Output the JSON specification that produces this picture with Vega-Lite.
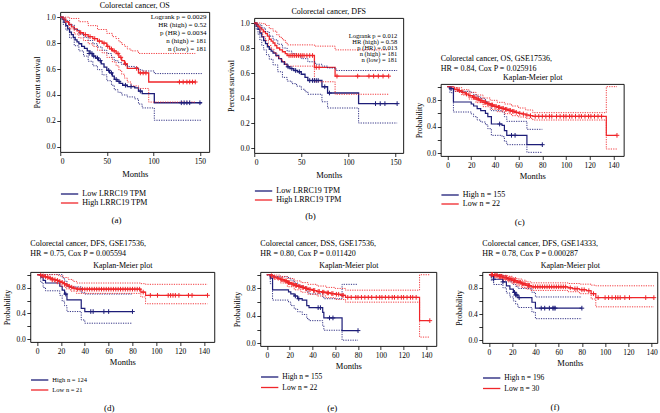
{
"$schema": "https://vega.github.io/schema/vega-lite/v6.json",
"padding": {"left": 3, "top": 0, "right": 0, "bottom": 0},
"config": {
 "font": "Liberation Serif",
 "view": {"stroke": "#000", "strokeWidth": 0.9},
 "axis": {"grid": false, "domain": false, "tickColor": "#000", "labelColor": "#000", "titleColor": "#000", "labelFont": "Liberation Serif", "titleFont": "Liberation Serif", "titleFontWeight": "normal", "labelFontSize": 7.5, "titleFontSize": 8, "tickSize": 3.5, "tickWidth": 0.8, "labelPadding": 1.5},
 "legend": {"labelFont": "Liberation Serif", "labelColor": "#000", "orient": "bottom", "direction": "vertical", "symbolType": "M-1,0L3,0", "symbolStrokeWidth": 1.3, "symbolSize": 75, "labelFontSize": 8, "rowPadding": 0, "labelOffset": 12, "offset": 8},
 "title": {"font": "Liberation Serif", "fontSize": 8, "fontWeight": "normal", "color": "#000"}
},
"datasets": {
"pa": [
{"g":"L","k":"e","t":0,"s":1},{"g":"L","k":"e","t":2,"s":0.985},{"g":"L","k":"e","t":4,"s":0.96},{"g":"L","k":"e","t":6,"s":0.935},{"g":"L","k":"e","t":8,"s":0.91},{"g":"L","k":"e","t":10,"s":0.885},{"g":"L","k":"e","t":12,"s":0.865},{"g":"L","k":"e","t":14,"s":0.845},{"g":"L","k":"e","t":16,"s":0.825},{"g":"L","k":"e","t":18,"s":0.81},{"g":"L","k":"e","t":20,"s":0.795},{"g":"L","k":"e","t":23,"s":0.775},{"g":"L","k":"e","t":26,"s":0.76},{"g":"L","k":"e","t":29,"s":0.74},{"g":"L","k":"e","t":32,"s":0.72},{"g":"L","k":"e","t":35,"s":0.7},{"g":"L","k":"e","t":38,"s":0.685},{"g":"L","k":"e","t":41,"s":0.665},{"g":"L","k":"e","t":44,"s":0.64},{"g":"L","k":"e","t":47,"s":0.615},{"g":"L","k":"e","t":50,"s":0.59},{"g":"L","k":"e","t":53,"s":0.57},{"g":"L","k":"e","t":56,"s":0.545},{"g":"L","k":"e","t":58,"s":0.52},{"g":"L","k":"e","t":61,"s":0.505},{"g":"L","k":"e","t":64,"s":0.49},{"g":"L","k":"e","t":67,"s":0.475},{"g":"L","k":"e","t":72,"s":0.465},{"g":"L","k":"e","t":80,"s":0.455},{"g":"L","k":"e","t":84,"s":0.43},{"g":"L","k":"e","t":88,"s":0.41},{"g":"L","k":"e","t":101,"s":0.34},{"g":"L","k":"e","t":152,"s":0.34},
{"g":"L","k":"c","t":31,"s":0.72},{"g":"L","k":"c","t":34,"s":0.72},{"g":"L","k":"c","t":36,"s":0.7},{"g":"L","k":"c","t":40,"s":0.685},{"g":"L","k":"c","t":43,"s":0.665},{"g":"L","k":"c","t":52,"s":0.59},{"g":"L","k":"c","t":55,"s":0.57},{"g":"L","k":"c","t":60,"s":0.52},{"g":"L","k":"c","t":63,"s":0.505},{"g":"L","k":"c","t":70,"s":0.475},{"g":"L","k":"c","t":76,"s":0.465},{"g":"L","k":"c","t":86,"s":0.43},{"g":"L","k":"c","t":130,"s":0.34},{"g":"L","k":"c","t":133,"s":0.34},{"g":"L","k":"c","t":136,"s":0.34},{"g":"L","k":"c","t":139,"s":0.34},{"g":"L","k":"c","t":150,"s":0.34},
{"g":"L","k":"u","t":0,"s":1},{"g":"L","k":"u","t":5,"s":0.975},{"g":"L","k":"u","t":10,"s":0.94},{"g":"L","k":"u","t":15,"s":0.905},{"g":"L","k":"u","t":20,"s":0.87},{"g":"L","k":"u","t":25,"s":0.845},{"g":"L","k":"u","t":30,"s":0.82},{"g":"L","k":"u","t":35,"s":0.795},{"g":"L","k":"u","t":40,"s":0.77},{"g":"L","k":"u","t":45,"s":0.745},{"g":"L","k":"u","t":50,"s":0.72},{"g":"L","k":"u","t":55,"s":0.69},{"g":"L","k":"u","t":58,"s":0.665},{"g":"L","k":"u","t":62,"s":0.65},{"g":"L","k":"u","t":66,"s":0.635},{"g":"L","k":"u","t":72,"s":0.62},{"g":"L","k":"u","t":80,"s":0.61},{"g":"L","k":"u","t":84,"s":0.595},{"g":"L","k":"u","t":88,"s":0.585},{"g":"L","k":"u","t":101,"s":0.565},{"g":"L","k":"u","t":152,"s":0.565},
{"g":"L","k":"l","t":0,"s":1},{"g":"L","k":"l","t":3,"s":0.945},{"g":"L","k":"l","t":6,"s":0.9},{"g":"L","k":"l","t":10,"s":0.84},{"g":"L","k":"l","t":15,"s":0.78},{"g":"L","k":"l","t":20,"s":0.74},{"g":"L","k":"l","t":25,"s":0.7},{"g":"L","k":"l","t":30,"s":0.66},{"g":"L","k":"l","t":35,"s":0.625},{"g":"L","k":"l","t":40,"s":0.595},{"g":"L","k":"l","t":45,"s":0.555},{"g":"L","k":"l","t":50,"s":0.51},{"g":"L","k":"l","t":55,"s":0.475},{"g":"L","k":"l","t":58,"s":0.44},{"g":"L","k":"l","t":62,"s":0.42},{"g":"L","k":"l","t":66,"s":0.4},{"g":"L","k":"l","t":72,"s":0.385},{"g":"L","k":"l","t":80,"s":0.37},{"g":"L","k":"l","t":84,"s":0.33},{"g":"L","k":"l","t":88,"s":0.3},{"g":"L","k":"l","t":101,"s":0.205},{"g":"L","k":"l","t":152,"s":0.205},
{"g":"H","k":"e","t":0,"s":1},{"g":"H","k":"e","t":3,"s":0.985},{"g":"H","k":"e","t":6,"s":0.965},{"g":"H","k":"e","t":9,"s":0.945},{"g":"H","k":"e","t":12,"s":0.925},{"g":"H","k":"e","t":15,"s":0.91},{"g":"H","k":"e","t":18,"s":0.895},{"g":"H","k":"e","t":21,"s":0.88},{"g":"H","k":"e","t":25,"s":0.865},{"g":"H","k":"e","t":30,"s":0.85},{"g":"H","k":"e","t":35,"s":0.835},{"g":"H","k":"e","t":40,"s":0.815},{"g":"H","k":"e","t":45,"s":0.8},{"g":"H","k":"e","t":50,"s":0.775},{"g":"H","k":"e","t":53,"s":0.755},{"g":"H","k":"e","t":56,"s":0.74},{"g":"H","k":"e","t":60,"s":0.72},{"g":"H","k":"e","t":63,"s":0.69},{"g":"H","k":"e","t":66,"s":0.665},{"g":"H","k":"e","t":69,"s":0.64},{"g":"H","k":"e","t":72,"s":0.605},{"g":"H","k":"e","t":84,"s":0.57},{"g":"H","k":"e","t":95,"s":0.5},{"g":"H","k":"e","t":145,"s":0.5},
{"g":"H","k":"c","t":22,"s":0.88},{"g":"H","k":"c","t":27,"s":0.865},{"g":"H","k":"c","t":32,"s":0.85},{"g":"H","k":"c","t":37,"s":0.835},{"g":"H","k":"c","t":42,"s":0.815},{"g":"H","k":"c","t":47,"s":0.8},{"g":"H","k":"c","t":51,"s":0.775},{"g":"H","k":"c","t":55,"s":0.755},{"g":"H","k":"c","t":58,"s":0.74},{"g":"H","k":"c","t":62,"s":0.72},{"g":"H","k":"c","t":65,"s":0.69},{"g":"H","k":"c","t":70,"s":0.64},{"g":"H","k":"c","t":82,"s":0.605},{"g":"H","k":"c","t":86,"s":0.57},{"g":"H","k":"c","t":89,"s":0.57},{"g":"H","k":"c","t":92,"s":0.57},{"g":"H","k":"c","t":128,"s":0.5},{"g":"H","k":"c","t":132,"s":0.5},{"g":"H","k":"c","t":136,"s":0.5},{"g":"H","k":"c","t":139,"s":0.5},{"g":"H","k":"c","t":142,"s":0.5},{"g":"H","k":"c","t":145,"s":0.5},
{"g":"H","k":"u","t":0,"s":1},{"g":"H","k":"u","t":10,"s":0.99},{"g":"H","k":"u","t":20,"s":0.965},{"g":"H","k":"u","t":30,"s":0.935},{"g":"H","k":"u","t":40,"s":0.905},{"g":"H","k":"u","t":50,"s":0.875},{"g":"H","k":"u","t":56,"s":0.85},{"g":"H","k":"u","t":60,"s":0.835},{"g":"H","k":"u","t":63,"s":0.81},{"g":"H","k":"u","t":66,"s":0.79},{"g":"H","k":"u","t":69,"s":0.775},{"g":"H","k":"u","t":72,"s":0.755},{"g":"H","k":"u","t":76,"s":0.74},{"g":"H","k":"u","t":84,"s":0.72},{"g":"H","k":"u","t":145,"s":0.72},
{"g":"H","k":"l","t":0,"s":1},{"g":"H","k":"l","t":5,"s":0.96},{"g":"H","k":"l","t":10,"s":0.91},{"g":"H","k":"l","t":15,"s":0.87},{"g":"H","k":"l","t":20,"s":0.84},{"g":"H","k":"l","t":25,"s":0.82},{"g":"H","k":"l","t":30,"s":0.795},{"g":"H","k":"l","t":35,"s":0.775},{"g":"H","k":"l","t":40,"s":0.745},{"g":"H","k":"l","t":45,"s":0.725},{"g":"H","k":"l","t":50,"s":0.69},{"g":"H","k":"l","t":56,"s":0.655},{"g":"H","k":"l","t":60,"s":0.625},{"g":"H","k":"l","t":63,"s":0.59},{"g":"H","k":"l","t":66,"s":0.56},{"g":"H","k":"l","t":69,"s":0.53},{"g":"H","k":"l","t":72,"s":0.5},{"g":"H","k":"l","t":76,"s":0.47},{"g":"H","k":"l","t":84,"s":0.45},{"g":"H","k":"l","t":95,"s":0.345},{"g":"H","k":"l","t":145,"s":0.345}
],
"pb": [
{"g":"L","k":"e","t":0,"s":1},{"g":"L","k":"e","t":2,"s":0.975},{"g":"L","k":"e","t":4,"s":0.95},{"g":"L","k":"e","t":6,"s":0.92},{"g":"L","k":"e","t":8,"s":0.89},{"g":"L","k":"e","t":10,"s":0.86},{"g":"L","k":"e","t":12,"s":0.835},{"g":"L","k":"e","t":14,"s":0.81},{"g":"L","k":"e","t":16,"s":0.79},{"g":"L","k":"e","t":18,"s":0.775},{"g":"L","k":"e","t":20,"s":0.76},{"g":"L","k":"e","t":23,"s":0.74},{"g":"L","k":"e","t":26,"s":0.715},{"g":"L","k":"e","t":29,"s":0.69},{"g":"L","k":"e","t":32,"s":0.67},{"g":"L","k":"e","t":35,"s":0.65},{"g":"L","k":"e","t":38,"s":0.635},{"g":"L","k":"e","t":42,"s":0.62},{"g":"L","k":"e","t":46,"s":0.61},{"g":"L","k":"e","t":50,"s":0.59},{"g":"L","k":"e","t":54,"s":0.565},{"g":"L","k":"e","t":57,"s":0.54},{"g":"L","k":"e","t":72,"s":0.49},{"g":"L","k":"e","t":78,"s":0.44},{"g":"L","k":"e","t":111,"s":0.355},{"g":"L","k":"e","t":152,"s":0.355},
{"g":"L","k":"c","t":36,"s":0.65},{"g":"L","k":"c","t":40,"s":0.635},{"g":"L","k":"c","t":44,"s":0.62},{"g":"L","k":"c","t":48,"s":0.61},{"g":"L","k":"c","t":59,"s":0.54},{"g":"L","k":"c","t":62,"s":0.54},{"g":"L","k":"c","t":64,"s":0.54},{"g":"L","k":"c","t":66,"s":0.54},{"g":"L","k":"c","t":68,"s":0.54},{"g":"L","k":"c","t":75,"s":0.49},{"g":"L","k":"c","t":80,"s":0.44},{"g":"L","k":"c","t":129,"s":0.355},{"g":"L","k":"c","t":134,"s":0.355},{"g":"L","k":"c","t":139,"s":0.355},{"g":"L","k":"c","t":152,"s":0.355},
{"g":"L","k":"u","t":0,"s":1},{"g":"L","k":"u","t":4,"s":0.985},{"g":"L","k":"u","t":8,"s":0.96},{"g":"L","k":"u","t":12,"s":0.93},{"g":"L","k":"u","t":16,"s":0.895},{"g":"L","k":"u","t":20,"s":0.865},{"g":"L","k":"u","t":25,"s":0.83},{"g":"L","k":"u","t":30,"s":0.8},{"g":"L","k":"u","t":35,"s":0.775},{"g":"L","k":"u","t":40,"s":0.755},{"g":"L","k":"u","t":45,"s":0.735},{"g":"L","k":"u","t":50,"s":0.715},{"g":"L","k":"u","t":57,"s":0.69},{"g":"L","k":"u","t":65,"s":0.67},{"g":"L","k":"u","t":72,"s":0.655},{"g":"L","k":"u","t":78,"s":0.64},{"g":"L","k":"u","t":87,"s":0.62},{"g":"L","k":"u","t":152,"s":0.62},
{"g":"L","k":"l","t":0,"s":1},{"g":"L","k":"l","t":2,"s":0.95},{"g":"L","k":"l","t":4,"s":0.91},{"g":"L","k":"l","t":6,"s":0.865},{"g":"L","k":"l","t":8,"s":0.82},{"g":"L","k":"l","t":10,"s":0.785},{"g":"L","k":"l","t":13,"s":0.745},{"g":"L","k":"l","t":16,"s":0.71},{"g":"L","k":"l","t":20,"s":0.665},{"g":"L","k":"l","t":25,"s":0.61},{"g":"L","k":"l","t":30,"s":0.565},{"g":"L","k":"l","t":35,"s":0.535},{"g":"L","k":"l","t":40,"s":0.515},{"g":"L","k":"l","t":45,"s":0.495},{"g":"L","k":"l","t":50,"s":0.47},{"g":"L","k":"l","t":54,"s":0.45},{"g":"L","k":"l","t":57,"s":0.43},{"g":"L","k":"l","t":72,"s":0.37},{"g":"L","k":"l","t":78,"s":0.32},{"g":"L","k":"l","t":111,"s":0.2},{"g":"L","k":"l","t":152,"s":0.2},
{"g":"H","k":"e","t":0,"s":1},{"g":"H","k":"e","t":2,"s":0.99},{"g":"H","k":"e","t":4,"s":0.975},{"g":"H","k":"e","t":6,"s":0.96},{"g":"H","k":"e","t":8,"s":0.945},{"g":"H","k":"e","t":10,"s":0.93},{"g":"H","k":"e","t":12,"s":0.915},{"g":"H","k":"e","t":14,"s":0.895},{"g":"H","k":"e","t":16,"s":0.87},{"g":"H","k":"e","t":18,"s":0.855},{"g":"H","k":"e","t":20,"s":0.84},{"g":"H","k":"e","t":22,"s":0.82},{"g":"H","k":"e","t":24,"s":0.8},{"g":"H","k":"e","t":27,"s":0.785},{"g":"H","k":"e","t":30,"s":0.77},{"g":"H","k":"e","t":33,"s":0.755},{"g":"H","k":"e","t":35,"s":0.74},{"g":"H","k":"e","t":64,"s":0.645},{"g":"H","k":"e","t":86,"s":0.575},{"g":"H","k":"e","t":143,"s":0.575},
{"g":"H","k":"c","t":37,"s":0.74},{"g":"H","k":"c","t":39,"s":0.74},{"g":"H","k":"c","t":41,"s":0.74},{"g":"H","k":"c","t":43,"s":0.74},{"g":"H","k":"c","t":45,"s":0.74},{"g":"H","k":"c","t":47,"s":0.74},{"g":"H","k":"c","t":49,"s":0.74},{"g":"H","k":"c","t":51,"s":0.74},{"g":"H","k":"c","t":53,"s":0.74},{"g":"H","k":"c","t":56,"s":0.74},{"g":"H","k":"c","t":59,"s":0.74},{"g":"H","k":"c","t":62,"s":0.74},{"g":"H","k":"c","t":66,"s":0.645},{"g":"H","k":"c","t":69,"s":0.645},{"g":"H","k":"c","t":88,"s":0.575},{"g":"H","k":"c","t":110,"s":0.575},{"g":"H","k":"c","t":122,"s":0.575},{"g":"H","k":"c","t":127,"s":0.575},{"g":"H","k":"c","t":132,"s":0.575},{"g":"H","k":"c","t":137,"s":0.575},{"g":"H","k":"c","t":143,"s":0.575},
{"g":"H","k":"u","t":0,"s":1},{"g":"H","k":"u","t":8,"s":0.995},{"g":"H","k":"u","t":12,"s":0.98},{"g":"H","k":"u","t":16,"s":0.955},{"g":"H","k":"u","t":20,"s":0.935},{"g":"H","k":"u","t":24,"s":0.905},{"g":"H","k":"u","t":27,"s":0.885},{"g":"H","k":"u","t":30,"s":0.865},{"g":"H","k":"u","t":33,"s":0.845},{"g":"H","k":"u","t":35,"s":0.825},{"g":"H","k":"u","t":64,"s":0.815},{"g":"H","k":"u","t":86,"s":0.785},{"g":"H","k":"u","t":143,"s":0.785},
{"g":"H","k":"l","t":0,"s":1},{"g":"H","k":"l","t":3,"s":0.97},{"g":"H","k":"l","t":6,"s":0.93},{"g":"H","k":"l","t":9,"s":0.89},{"g":"H","k":"l","t":12,"s":0.86},{"g":"H","k":"l","t":15,"s":0.82},{"g":"H","k":"l","t":18,"s":0.79},{"g":"H","k":"l","t":21,"s":0.76},{"g":"H","k":"l","t":24,"s":0.73},{"g":"H","k":"l","t":27,"s":0.71},{"g":"H","k":"l","t":30,"s":0.69},{"g":"H","k":"l","t":33,"s":0.67},{"g":"H","k":"l","t":35,"s":0.655},{"g":"H","k":"l","t":64,"s":0.53},{"g":"H","k":"l","t":86,"s":0.43},{"g":"H","k":"l","t":143,"s":0.43}
],
"pc": [
{"g":"H","k":"e","t":0,"s":1},{"g":"H","k":"e","t":2,"s":0.97},{"g":"H","k":"e","t":5,"s":0.77},{"g":"H","k":"e","t":20,"s":0.74},{"g":"H","k":"e","t":22,"s":0.71},{"g":"H","k":"e","t":25,"s":0.67},{"g":"H","k":"e","t":28,"s":0.64},{"g":"H","k":"e","t":32,"s":0.6},{"g":"H","k":"e","t":34,"s":0.55},{"g":"H","k":"e","t":37,"s":0.44},{"g":"H","k":"e","t":46,"s":0.42},{"g":"H","k":"e","t":48,"s":0.34},{"g":"H","k":"e","t":50,"s":0.27},{"g":"H","k":"e","t":67,"s":0.13},{"g":"H","k":"e","t":80,"s":0.13},
{"g":"H","k":"c","t":3,"s":0.97},{"g":"H","k":"c","t":44,"s":0.44},{"g":"H","k":"c","t":54,"s":0.27},{"g":"H","k":"c","t":57,"s":0.27},{"g":"H","k":"c","t":80,"s":0.13},
{"g":"H","k":"u","t":0,"s":1},{"g":"H","k":"u","t":5,"s":0.93},{"g":"H","k":"u","t":20,"s":0.91},{"g":"H","k":"u","t":22,"s":0.88},{"g":"H","k":"u","t":25,"s":0.85},{"g":"H","k":"u","t":28,"s":0.82},{"g":"H","k":"u","t":32,"s":0.78},{"g":"H","k":"u","t":34,"s":0.74},{"g":"H","k":"u","t":37,"s":0.64},{"g":"H","k":"u","t":46,"s":0.62},{"g":"H","k":"u","t":48,"s":0.55},{"g":"H","k":"u","t":50,"s":0.48},{"g":"H","k":"u","t":67,"s":0.36},{"g":"H","k":"u","t":80,"s":0.36},
{"g":"H","k":"l","t":0,"s":1},{"g":"H","k":"l","t":2,"s":0.91},{"g":"H","k":"l","t":5,"s":0.62},{"g":"H","k":"l","t":20,"s":0.59},{"g":"H","k":"l","t":22,"s":0.55},{"g":"H","k":"l","t":25,"s":0.5},{"g":"H","k":"l","t":28,"s":0.47},{"g":"H","k":"l","t":32,"s":0.43},{"g":"H","k":"l","t":34,"s":0.37},{"g":"H","k":"l","t":37,"s":0.27},{"g":"H","k":"l","t":46,"s":0.25},{"g":"H","k":"l","t":48,"s":0.18},{"g":"H","k":"l","t":50,"s":0.13},{"g":"H","k":"l","t":67,"s":0.015},{"g":"H","k":"l","t":80,"s":0.015},
{"g":"L","k":"e","t":0,"s":1},{"g":"L","k":"e","t":3,"s":0.98},{"g":"L","k":"e","t":6,"s":0.96},{"g":"L","k":"e","t":9,"s":0.94},{"g":"L","k":"e","t":12,"s":0.915},{"g":"L","k":"e","t":15,"s":0.89},{"g":"L","k":"e","t":18,"s":0.865},{"g":"L","k":"e","t":21,"s":0.84},{"g":"L","k":"e","t":24,"s":0.815},{"g":"L","k":"e","t":27,"s":0.79},{"g":"L","k":"e","t":30,"s":0.765},{"g":"L","k":"e","t":33,"s":0.745},{"g":"L","k":"e","t":36,"s":0.725},{"g":"L","k":"e","t":39,"s":0.705},{"g":"L","k":"e","t":42,"s":0.69},{"g":"L","k":"e","t":45,"s":0.675},{"g":"L","k":"e","t":48,"s":0.66},{"g":"L","k":"e","t":51,"s":0.645},{"g":"L","k":"e","t":54,"s":0.63},{"g":"L","k":"e","t":57,"s":0.615},{"g":"L","k":"e","t":60,"s":0.6},{"g":"L","k":"e","t":63,"s":0.59},{"g":"L","k":"e","t":66,"s":0.575},{"g":"L","k":"e","t":69,"s":0.565},{"g":"L","k":"e","t":72,"s":0.555},{"g":"L","k":"e","t":134,"s":0.27},{"g":"L","k":"e","t":143,"s":0.27},
{"g":"L","k":"c","t":8,"s":0.96},{"g":"L","k":"c","t":10,"s":0.94},{"g":"L","k":"c","t":13,"s":0.915},{"g":"L","k":"c","t":16,"s":0.89},{"g":"L","k":"c","t":19,"s":0.865},{"g":"L","k":"c","t":22,"s":0.84},{"g":"L","k":"c","t":23,"s":0.84},{"g":"L","k":"c","t":25,"s":0.815},{"g":"L","k":"c","t":26,"s":0.815},{"g":"L","k":"c","t":28,"s":0.79},{"g":"L","k":"c","t":29,"s":0.79},{"g":"L","k":"c","t":31,"s":0.765},{"g":"L","k":"c","t":32,"s":0.765},{"g":"L","k":"c","t":34,"s":0.745},{"g":"L","k":"c","t":35,"s":0.745},{"g":"L","k":"c","t":37,"s":0.725},{"g":"L","k":"c","t":38,"s":0.725},{"g":"L","k":"c","t":40,"s":0.705},{"g":"L","k":"c","t":41,"s":0.705},{"g":"L","k":"c","t":43,"s":0.69},{"g":"L","k":"c","t":44,"s":0.69},{"g":"L","k":"c","t":46,"s":0.675},{"g":"L","k":"c","t":47,"s":0.675},{"g":"L","k":"c","t":49,"s":0.66},{"g":"L","k":"c","t":50,"s":0.66},{"g":"L","k":"c","t":52,"s":0.645},{"g":"L","k":"c","t":53,"s":0.645},{"g":"L","k":"c","t":55,"s":0.63},{"g":"L","k":"c","t":56,"s":0.63},{"g":"L","k":"c","t":58,"s":0.615},{"g":"L","k":"c","t":61,"s":0.6},{"g":"L","k":"c","t":64,"s":0.59},{"g":"L","k":"c","t":67,"s":0.575},{"g":"L","k":"c","t":70,"s":0.565},{"g":"L","k":"c","t":74,"s":0.555},{"g":"L","k":"c","t":77,"s":0.555},{"g":"L","k":"c","t":80,"s":0.555},{"g":"L","k":"c","t":83,"s":0.555},{"g":"L","k":"c","t":86,"s":0.555},{"g":"L","k":"c","t":88,"s":0.555},{"g":"L","k":"c","t":92,"s":0.555},{"g":"L","k":"c","t":95,"s":0.555},{"g":"L","k":"c","t":98,"s":0.555},{"g":"L","k":"c","t":100,"s":0.555},{"g":"L","k":"c","t":103,"s":0.555},{"g":"L","k":"c","t":105,"s":0.555},{"g":"L","k":"c","t":108,"s":0.555},{"g":"L","k":"c","t":111,"s":0.555},{"g":"L","k":"c","t":113,"s":0.555},{"g":"L","k":"c","t":116,"s":0.555},{"g":"L","k":"c","t":119,"s":0.555},{"g":"L","k":"c","t":121,"s":0.555},{"g":"L","k":"c","t":124,"s":0.555},{"g":"L","k":"c","t":127,"s":0.555},{"g":"L","k":"c","t":130,"s":0.555},{"g":"L","k":"c","t":143,"s":0.27},
{"g":"L","k":"u","t":0,"s":1},{"g":"L","k":"u","t":6,"s":0.985},{"g":"L","k":"u","t":12,"s":0.955},{"g":"L","k":"u","t":18,"s":0.915},{"g":"L","k":"u","t":24,"s":0.875},{"g":"L","k":"u","t":30,"s":0.83},{"g":"L","k":"u","t":36,"s":0.795},{"g":"L","k":"u","t":42,"s":0.765},{"g":"L","k":"u","t":48,"s":0.74},{"g":"L","k":"u","t":54,"s":0.71},{"g":"L","k":"u","t":60,"s":0.68},{"g":"L","k":"u","t":66,"s":0.65},{"g":"L","k":"u","t":72,"s":0.61},{"g":"L","k":"u","t":134,"s":1},{"g":"L","k":"u","t":143,"s":1},
{"g":"L","k":"l","t":0,"s":1},{"g":"L","k":"l","t":6,"s":0.93},{"g":"L","k":"l","t":12,"s":0.875},{"g":"L","k":"l","t":18,"s":0.815},{"g":"L","k":"l","t":24,"s":0.76},{"g":"L","k":"l","t":30,"s":0.7},{"g":"L","k":"l","t":36,"s":0.66},{"g":"L","k":"l","t":42,"s":0.625},{"g":"L","k":"l","t":48,"s":0.595},{"g":"L","k":"l","t":54,"s":0.565},{"g":"L","k":"l","t":60,"s":0.545},{"g":"L","k":"l","t":66,"s":0.525},{"g":"L","k":"l","t":72,"s":0.5},{"g":"L","k":"l","t":134,"s":0.065},{"g":"L","k":"l","t":143,"s":0.065}
],
"pd": [
{"g":"H","k":"e","t":0,"s":1},{"g":"H","k":"e","t":3,"s":0.96},{"g":"H","k":"e","t":5,"s":0.91},{"g":"H","k":"e","t":7,"s":0.87},{"g":"H","k":"e","t":19,"s":0.82},{"g":"H","k":"e","t":21,"s":0.76},{"g":"H","k":"e","t":23,"s":0.7},{"g":"H","k":"e","t":25,"s":0.61},{"g":"H","k":"e","t":37,"s":0.48},{"g":"H","k":"e","t":40,"s":0.43},{"g":"H","k":"e","t":80,"s":0.43},
{"g":"H","k":"c","t":24,"s":0.7},{"g":"H","k":"c","t":45,"s":0.43},{"g":"H","k":"c","t":47,"s":0.43},{"g":"H","k":"c","t":56,"s":0.43},{"g":"H","k":"c","t":60,"s":0.43},{"g":"H","k":"c","t":80,"s":0.43},
{"g":"H","k":"u","t":0,"s":1},{"g":"H","k":"u","t":19,"s":1},{"g":"H","k":"u","t":21,"s":0.95},{"g":"H","k":"u","t":23,"s":0.9},{"g":"H","k":"u","t":25,"s":0.81},{"g":"H","k":"u","t":37,"s":0.72},{"g":"H","k":"u","t":40,"s":0.7},{"g":"H","k":"u","t":80,"s":0.7},
{"g":"H","k":"l","t":0,"s":1},{"g":"H","k":"l","t":3,"s":0.88},{"g":"H","k":"l","t":5,"s":0.8},{"g":"H","k":"l","t":7,"s":0.75},{"g":"H","k":"l","t":19,"s":0.68},{"g":"H","k":"l","t":21,"s":0.59},{"g":"H","k":"l","t":23,"s":0.52},{"g":"H","k":"l","t":25,"s":0.43},{"g":"H","k":"l","t":37,"s":0.3},{"g":"H","k":"l","t":40,"s":0.25},{"g":"H","k":"l","t":80,"s":0.25},
{"g":"L","k":"e","t":0,"s":1},{"g":"L","k":"e","t":2,"s":0.99},{"g":"L","k":"e","t":4,"s":0.98},{"g":"L","k":"e","t":6,"s":0.97},{"g":"L","k":"e","t":8,"s":0.96},{"g":"L","k":"e","t":10,"s":0.945},{"g":"L","k":"e","t":12,"s":0.93},{"g":"L","k":"e","t":14,"s":0.92},{"g":"L","k":"e","t":16,"s":0.91},{"g":"L","k":"e","t":18,"s":0.895},{"g":"L","k":"e","t":20,"s":0.88},{"g":"L","k":"e","t":22,"s":0.86},{"g":"L","k":"e","t":24,"s":0.84},{"g":"L","k":"e","t":26,"s":0.82},{"g":"L","k":"e","t":28,"s":0.805},{"g":"L","k":"e","t":30,"s":0.79},{"g":"L","k":"e","t":33,"s":0.775},{"g":"L","k":"e","t":87,"s":0.73},{"g":"L","k":"e","t":91,"s":0.68},{"g":"L","k":"e","t":143,"s":0.68},
{"g":"L","k":"c","t":3,"s":0.99},{"g":"L","k":"c","t":5,"s":0.98},{"g":"L","k":"c","t":7,"s":0.97},{"g":"L","k":"c","t":9,"s":0.96},{"g":"L","k":"c","t":11,"s":0.945},{"g":"L","k":"c","t":13,"s":0.93},{"g":"L","k":"c","t":15,"s":0.92},{"g":"L","k":"c","t":17,"s":0.91},{"g":"L","k":"c","t":19,"s":0.895},{"g":"L","k":"c","t":21,"s":0.88},{"g":"L","k":"c","t":23,"s":0.86},{"g":"L","k":"c","t":25,"s":0.84},{"g":"L","k":"c","t":27,"s":0.82},{"g":"L","k":"c","t":29,"s":0.805},{"g":"L","k":"c","t":31,"s":0.79},{"g":"L","k":"c","t":34,"s":0.775},{"g":"L","k":"c","t":36,"s":0.775},{"g":"L","k":"c","t":38,"s":0.775},{"g":"L","k":"c","t":40,"s":0.775},{"g":"L","k":"c","t":42,"s":0.775},{"g":"L","k":"c","t":44,"s":0.775},{"g":"L","k":"c","t":46,"s":0.775},{"g":"L","k":"c","t":48,"s":0.775},{"g":"L","k":"c","t":50,"s":0.775},{"g":"L","k":"c","t":52,"s":0.775},{"g":"L","k":"c","t":54,"s":0.775},{"g":"L","k":"c","t":56,"s":0.775},{"g":"L","k":"c","t":58,"s":0.775},{"g":"L","k":"c","t":60,"s":0.775},{"g":"L","k":"c","t":62,"s":0.775},{"g":"L","k":"c","t":64,"s":0.775},{"g":"L","k":"c","t":66,"s":0.775},{"g":"L","k":"c","t":68,"s":0.775},{"g":"L","k":"c","t":70,"s":0.775},{"g":"L","k":"c","t":72,"s":0.775},{"g":"L","k":"c","t":74,"s":0.775},{"g":"L","k":"c","t":76,"s":0.775},{"g":"L","k":"c","t":78,"s":0.775},{"g":"L","k":"c","t":80,"s":0.775},{"g":"L","k":"c","t":82,"s":0.775},{"g":"L","k":"c","t":84,"s":0.775},{"g":"L","k":"c","t":86,"s":0.775},{"g":"L","k":"c","t":89,"s":0.73},{"g":"L","k":"c","t":95,"s":0.68},{"g":"L","k":"c","t":101,"s":0.68},{"g":"L","k":"c","t":110,"s":0.68},{"g":"L","k":"c","t":112,"s":0.68},{"g":"L","k":"c","t":114,"s":0.68},{"g":"L","k":"c","t":116,"s":0.68},{"g":"L","k":"c","t":119,"s":0.68},{"g":"L","k":"c","t":127,"s":0.68},{"g":"L","k":"c","t":130,"s":0.68},{"g":"L","k":"c","t":143,"s":0.68},
{"g":"L","k":"u","t":0,"s":1},{"g":"L","k":"u","t":14,"s":1},{"g":"L","k":"u","t":18,"s":0.98},{"g":"L","k":"u","t":22,"s":0.955},{"g":"L","k":"u","t":26,"s":0.925},{"g":"L","k":"u","t":30,"s":0.895},{"g":"L","k":"u","t":33,"s":0.87},{"g":"L","k":"u","t":87,"s":0.86},{"g":"L","k":"u","t":91,"s":0.85},{"g":"L","k":"u","t":143,"s":0.85},
{"g":"L","k":"l","t":0,"s":1},{"g":"L","k":"l","t":4,"s":0.96},{"g":"L","k":"l","t":8,"s":0.93},{"g":"L","k":"l","t":12,"s":0.89},{"g":"L","k":"l","t":16,"s":0.86},{"g":"L","k":"l","t":20,"s":0.82},{"g":"L","k":"l","t":24,"s":0.78},{"g":"L","k":"l","t":28,"s":0.745},{"g":"L","k":"l","t":33,"s":0.71},{"g":"L","k":"l","t":87,"s":0.655},{"g":"L","k":"l","t":91,"s":0.55},{"g":"L","k":"l","t":143,"s":0.55}
],
"pe": [
{"g":"H","k":"e","t":0,"s":1},{"g":"H","k":"e","t":3,"s":0.95},{"g":"H","k":"e","t":5,"s":0.78},{"g":"H","k":"e","t":19,"s":0.75},{"g":"H","k":"e","t":21,"s":0.72},{"g":"H","k":"e","t":24,"s":0.69},{"g":"H","k":"e","t":27,"s":0.65},{"g":"H","k":"e","t":31,"s":0.63},{"g":"H","k":"e","t":35,"s":0.55},{"g":"H","k":"e","t":37,"s":0.52},{"g":"H","k":"e","t":49,"s":0.45},{"g":"H","k":"e","t":50,"s":0.37},{"g":"H","k":"e","t":66,"s":0.185},{"g":"H","k":"e","t":80,"s":0.185},
{"g":"H","k":"c","t":25,"s":0.69},{"g":"H","k":"c","t":28,"s":0.65},{"g":"H","k":"c","t":45,"s":0.52},{"g":"H","k":"c","t":47,"s":0.52},{"g":"H","k":"c","t":55,"s":0.37},{"g":"H","k":"c","t":58,"s":0.37},{"g":"H","k":"c","t":80,"s":0.185},
{"g":"H","k":"u","t":0,"s":1},{"g":"H","k":"u","t":5,"s":0.97},{"g":"H","k":"u","t":19,"s":0.95},{"g":"H","k":"u","t":21,"s":0.92},{"g":"H","k":"u","t":24,"s":0.88},{"g":"H","k":"u","t":27,"s":0.84},{"g":"H","k":"u","t":31,"s":0.82},{"g":"H","k":"u","t":35,"s":0.75},{"g":"H","k":"u","t":37,"s":0.72},{"g":"H","k":"u","t":49,"s":0.68},{"g":"H","k":"u","t":50,"s":0.65},{"g":"H","k":"u","t":66,"s":0.86},{"g":"H","k":"u","t":80,"s":0.86},
{"g":"H","k":"l","t":0,"s":1},{"g":"H","k":"l","t":3,"s":0.87},{"g":"H","k":"l","t":5,"s":0.63},{"g":"H","k":"l","t":19,"s":0.6},{"g":"H","k":"l","t":21,"s":0.55},{"g":"H","k":"l","t":24,"s":0.5},{"g":"H","k":"l","t":27,"s":0.46},{"g":"H","k":"l","t":31,"s":0.42},{"g":"H","k":"l","t":35,"s":0.36},{"g":"H","k":"l","t":37,"s":0.33},{"g":"H","k":"l","t":49,"s":0.26},{"g":"H","k":"l","t":50,"s":0.19},{"g":"H","k":"l","t":66,"s":0.045},{"g":"H","k":"l","t":80,"s":0.045},
{"g":"L","k":"e","t":0,"s":1},{"g":"L","k":"e","t":3,"s":0.985},{"g":"L","k":"e","t":6,"s":0.965},{"g":"L","k":"e","t":9,"s":0.95},{"g":"L","k":"e","t":12,"s":0.93},{"g":"L","k":"e","t":15,"s":0.91},{"g":"L","k":"e","t":18,"s":0.885},{"g":"L","k":"e","t":21,"s":0.865},{"g":"L","k":"e","t":24,"s":0.845},{"g":"L","k":"e","t":27,"s":0.83},{"g":"L","k":"e","t":30,"s":0.815},{"g":"L","k":"e","t":33,"s":0.8},{"g":"L","k":"e","t":36,"s":0.785},{"g":"L","k":"e","t":40,"s":0.77},{"g":"L","k":"e","t":44,"s":0.755},{"g":"L","k":"e","t":48,"s":0.745},{"g":"L","k":"e","t":52,"s":0.735},{"g":"L","k":"e","t":56,"s":0.725},{"g":"L","k":"e","t":60,"s":0.715},{"g":"L","k":"e","t":65,"s":0.7},{"g":"L","k":"e","t":69,"s":0.67},{"g":"L","k":"e","t":134,"s":0.33},{"g":"L","k":"e","t":143,"s":0.33},
{"g":"L","k":"c","t":4,"s":0.985},{"g":"L","k":"c","t":7,"s":0.965},{"g":"L","k":"c","t":10,"s":0.95},{"g":"L","k":"c","t":13,"s":0.93},{"g":"L","k":"c","t":14,"s":0.93},{"g":"L","k":"c","t":16,"s":0.91},{"g":"L","k":"c","t":17,"s":0.91},{"g":"L","k":"c","t":19,"s":0.885},{"g":"L","k":"c","t":20,"s":0.885},{"g":"L","k":"c","t":22,"s":0.865},{"g":"L","k":"c","t":23,"s":0.865},{"g":"L","k":"c","t":25,"s":0.845},{"g":"L","k":"c","t":26,"s":0.845},{"g":"L","k":"c","t":28,"s":0.83},{"g":"L","k":"c","t":29,"s":0.83},{"g":"L","k":"c","t":31,"s":0.815},{"g":"L","k":"c","t":32,"s":0.815},{"g":"L","k":"c","t":34,"s":0.8},{"g":"L","k":"c","t":35,"s":0.8},{"g":"L","k":"c","t":37,"s":0.785},{"g":"L","k":"c","t":38,"s":0.785},{"g":"L","k":"c","t":41,"s":0.77},{"g":"L","k":"c","t":42,"s":0.77},{"g":"L","k":"c","t":45,"s":0.755},{"g":"L","k":"c","t":46,"s":0.755},{"g":"L","k":"c","t":49,"s":0.745},{"g":"L","k":"c","t":50,"s":0.745},{"g":"L","k":"c","t":53,"s":0.735},{"g":"L","k":"c","t":54,"s":0.735},{"g":"L","k":"c","t":57,"s":0.725},{"g":"L","k":"c","t":58,"s":0.725},{"g":"L","k":"c","t":61,"s":0.715},{"g":"L","k":"c","t":63,"s":0.715},{"g":"L","k":"c","t":66,"s":0.7},{"g":"L","k":"c","t":67,"s":0.7},{"g":"L","k":"c","t":71,"s":0.67},{"g":"L","k":"c","t":74,"s":0.67},{"g":"L","k":"c","t":78,"s":0.67},{"g":"L","k":"c","t":80,"s":0.67},{"g":"L","k":"c","t":83,"s":0.67},{"g":"L","k":"c","t":86,"s":0.67},{"g":"L","k":"c","t":89,"s":0.67},{"g":"L","k":"c","t":92,"s":0.67},{"g":"L","k":"c","t":96,"s":0.67},{"g":"L","k":"c","t":99,"s":0.67},{"g":"L","k":"c","t":101,"s":0.67},{"g":"L","k":"c","t":104,"s":0.67},{"g":"L","k":"c","t":107,"s":0.67},{"g":"L","k":"c","t":110,"s":0.67},{"g":"L","k":"c","t":112,"s":0.67},{"g":"L","k":"c","t":115,"s":0.67},{"g":"L","k":"c","t":118,"s":0.67},{"g":"L","k":"c","t":120,"s":0.67},{"g":"L","k":"c","t":123,"s":0.67},{"g":"L","k":"c","t":126,"s":0.67},{"g":"L","k":"c","t":128,"s":0.67},{"g":"L","k":"c","t":131,"s":0.67},{"g":"L","k":"c","t":143,"s":0.33},
{"g":"L","k":"u","t":0,"s":1},{"g":"L","k":"u","t":6,"s":0.995},{"g":"L","k":"u","t":12,"s":0.975},{"g":"L","k":"u","t":18,"s":0.945},{"g":"L","k":"u","t":24,"s":0.91},{"g":"L","k":"u","t":30,"s":0.885},{"g":"L","k":"u","t":36,"s":0.86},{"g":"L","k":"u","t":44,"s":0.835},{"g":"L","k":"u","t":52,"s":0.815},{"g":"L","k":"u","t":60,"s":0.8},{"g":"L","k":"u","t":69,"s":0.775},{"g":"L","k":"u","t":134,"s":1},{"g":"L","k":"u","t":143,"s":1},
{"g":"L","k":"l","t":0,"s":1},{"g":"L","k":"l","t":6,"s":0.935},{"g":"L","k":"l","t":12,"s":0.88},{"g":"L","k":"l","t":18,"s":0.825},{"g":"L","k":"l","t":24,"s":0.78},{"g":"L","k":"l","t":30,"s":0.745},{"g":"L","k":"l","t":36,"s":0.715},{"g":"L","k":"l","t":44,"s":0.69},{"g":"L","k":"l","t":52,"s":0.665},{"g":"L","k":"l","t":60,"s":0.64},{"g":"L","k":"l","t":69,"s":0.6},{"g":"L","k":"l","t":134,"s":0.09},{"g":"L","k":"l","t":143,"s":0.09}
],
"pf": [
{"g":"H","k":"e","t":0,"s":1},{"g":"H","k":"e","t":2,"s":0.97},{"g":"H","k":"e","t":4,"s":0.93},{"g":"H","k":"e","t":12,"s":0.89},{"g":"H","k":"e","t":15,"s":0.83},{"g":"H","k":"e","t":18,"s":0.78},{"g":"H","k":"e","t":21,"s":0.73},{"g":"H","k":"e","t":23,"s":0.69},{"g":"H","k":"e","t":25,"s":0.65},{"g":"H","k":"e","t":37,"s":0.58},{"g":"H","k":"e","t":40,"s":0.49},{"g":"H","k":"e","t":80,"s":0.49},
{"g":"H","k":"c","t":4,"s":0.93},{"g":"H","k":"c","t":12,"s":0.89},{"g":"H","k":"c","t":22,"s":0.73},{"g":"H","k":"c","t":23,"s":0.69},{"g":"H","k":"c","t":24,"s":0.69},{"g":"H","k":"c","t":26,"s":0.65},{"g":"H","k":"c","t":45,"s":0.49},{"g":"H","k":"c","t":48,"s":0.49},{"g":"H","k":"c","t":52,"s":0.49},{"g":"H","k":"c","t":55,"s":0.49},{"g":"H","k":"c","t":56,"s":0.49},{"g":"H","k":"c","t":57,"s":0.49},{"g":"H","k":"c","t":80,"s":0.49},
{"g":"H","k":"u","t":0,"s":1},{"g":"H","k":"u","t":4,"s":1},{"g":"H","k":"u","t":12,"s":0.98},{"g":"H","k":"u","t":15,"s":0.94},{"g":"H","k":"u","t":18,"s":0.89},{"g":"H","k":"u","t":21,"s":0.85},{"g":"H","k":"u","t":23,"s":0.82},{"g":"H","k":"u","t":25,"s":0.79},{"g":"H","k":"u","t":37,"s":0.73},{"g":"H","k":"u","t":40,"s":0.66},{"g":"H","k":"u","t":80,"s":0.66},
{"g":"H","k":"l","t":0,"s":1},{"g":"H","k":"l","t":2,"s":0.91},{"g":"H","k":"l","t":4,"s":0.85},{"g":"H","k":"l","t":12,"s":0.8},{"g":"H","k":"l","t":15,"s":0.72},{"g":"H","k":"l","t":18,"s":0.66},{"g":"H","k":"l","t":21,"s":0.6},{"g":"H","k":"l","t":23,"s":0.55},{"g":"H","k":"l","t":25,"s":0.5},{"g":"H","k":"l","t":37,"s":0.43},{"g":"H","k":"l","t":40,"s":0.33},{"g":"H","k":"l","t":80,"s":0.33},
{"g":"L","k":"e","t":0,"s":1},{"g":"L","k":"e","t":4,"s":0.99},{"g":"L","k":"e","t":8,"s":0.975},{"g":"L","k":"e","t":12,"s":0.955},{"g":"L","k":"e","t":16,"s":0.935},{"g":"L","k":"e","t":20,"s":0.91},{"g":"L","k":"e","t":24,"s":0.885},{"g":"L","k":"e","t":28,"s":0.86},{"g":"L","k":"e","t":32,"s":0.835},{"g":"L","k":"e","t":36,"s":0.815},{"g":"L","k":"e","t":68,"s":0.8},{"g":"L","k":"e","t":72,"s":0.785},{"g":"L","k":"e","t":78,"s":0.77},{"g":"L","k":"e","t":84,"s":0.755},{"g":"L","k":"e","t":88,"s":0.71},{"g":"L","k":"e","t":92,"s":0.65},{"g":"L","k":"e","t":142,"s":0.65},
{"g":"L","k":"c","t":2,"s":1},{"g":"L","k":"c","t":3,"s":1},{"g":"L","k":"c","t":5,"s":0.99},{"g":"L","k":"c","t":6,"s":0.99},{"g":"L","k":"c","t":7,"s":0.99},{"g":"L","k":"c","t":9,"s":0.975},{"g":"L","k":"c","t":10,"s":0.975},{"g":"L","k":"c","t":11,"s":0.975},{"g":"L","k":"c","t":13,"s":0.955},{"g":"L","k":"c","t":14,"s":0.955},{"g":"L","k":"c","t":15,"s":0.955},{"g":"L","k":"c","t":17,"s":0.935},{"g":"L","k":"c","t":18,"s":0.935},{"g":"L","k":"c","t":19,"s":0.935},{"g":"L","k":"c","t":21,"s":0.91},{"g":"L","k":"c","t":22,"s":0.91},{"g":"L","k":"c","t":23,"s":0.91},{"g":"L","k":"c","t":25,"s":0.885},{"g":"L","k":"c","t":26,"s":0.885},{"g":"L","k":"c","t":27,"s":0.885},{"g":"L","k":"c","t":29,"s":0.86},{"g":"L","k":"c","t":30,"s":0.86},{"g":"L","k":"c","t":31,"s":0.86},{"g":"L","k":"c","t":33,"s":0.835},{"g":"L","k":"c","t":34,"s":0.835},{"g":"L","k":"c","t":35,"s":0.835},{"g":"L","k":"c","t":38,"s":0.815},{"g":"L","k":"c","t":40,"s":0.815},{"g":"L","k":"c","t":42,"s":0.815},{"g":"L","k":"c","t":44,"s":0.815},{"g":"L","k":"c","t":46,"s":0.815},{"g":"L","k":"c","t":48,"s":0.815},{"g":"L","k":"c","t":50,"s":0.815},{"g":"L","k":"c","t":52,"s":0.815},{"g":"L","k":"c","t":54,"s":0.815},{"g":"L","k":"c","t":56,"s":0.815},{"g":"L","k":"c","t":58,"s":0.815},{"g":"L","k":"c","t":60,"s":0.815},{"g":"L","k":"c","t":62,"s":0.815},{"g":"L","k":"c","t":64,"s":0.815},{"g":"L","k":"c","t":66,"s":0.815},{"g":"L","k":"c","t":70,"s":0.8},{"g":"L","k":"c","t":74,"s":0.785},{"g":"L","k":"c","t":76,"s":0.785},{"g":"L","k":"c","t":80,"s":0.77},{"g":"L","k":"c","t":82,"s":0.77},{"g":"L","k":"c","t":86,"s":0.755},{"g":"L","k":"c","t":90,"s":0.71},{"g":"L","k":"c","t":94,"s":0.65},{"g":"L","k":"c","t":100,"s":0.65},{"g":"L","k":"c","t":103,"s":0.65},{"g":"L","k":"c","t":106,"s":0.65},{"g":"L","k":"c","t":109,"s":0.65},{"g":"L","k":"c","t":111,"s":0.65},{"g":"L","k":"c","t":113,"s":0.65},{"g":"L","k":"c","t":117,"s":0.65},{"g":"L","k":"c","t":121,"s":0.65},{"g":"L","k":"c","t":135,"s":0.65},{"g":"L","k":"c","t":142,"s":0.65},
{"g":"L","k":"u","t":0,"s":1},{"g":"L","k":"u","t":8,"s":1},{"g":"L","k":"u","t":12,"s":0.99},{"g":"L","k":"u","t":16,"s":0.975},{"g":"L","k":"u","t":20,"s":0.955},{"g":"L","k":"u","t":24,"s":0.935},{"g":"L","k":"u","t":28,"s":0.915},{"g":"L","k":"u","t":32,"s":0.89},{"g":"L","k":"u","t":36,"s":0.875},{"g":"L","k":"u","t":68,"s":0.865},{"g":"L","k":"u","t":78,"s":0.855},{"g":"L","k":"u","t":88,"s":0.84},{"g":"L","k":"u","t":92,"s":0.83},{"g":"L","k":"u","t":142,"s":0.83},
{"g":"L","k":"l","t":0,"s":1},{"g":"L","k":"l","t":4,"s":0.965},{"g":"L","k":"l","t":8,"s":0.94},{"g":"L","k":"l","t":12,"s":0.915},{"g":"L","k":"l","t":16,"s":0.89},{"g":"L","k":"l","t":20,"s":0.86},{"g":"L","k":"l","t":24,"s":0.83},{"g":"L","k":"l","t":28,"s":0.805},{"g":"L","k":"l","t":32,"s":0.78},{"g":"L","k":"l","t":36,"s":0.76},{"g":"L","k":"l","t":68,"s":0.74},{"g":"L","k":"l","t":78,"s":0.71},{"g":"L","k":"l","t":88,"s":0.63},{"g":"L","k":"l","t":92,"s":0.51},{"g":"L","k":"l","t":142,"s":0.51}
]
},
"vconcat": [
{"hconcat": [
 {"hconcat": [
 {"vconcat": [
  {"width": 1, "height": 1, "data": {"values": []}, "mark": "point", "view": {"stroke": null}},
  {
   "width": 149, "height": 140, "data": {"name": "pa"},
   "title": {"text": "Colorectal cancer, OS", "offset": 2},
   "encoding": {
    "x": {"field": "t", "type": "quantitative", "scale": {"domain": [0, 160], "nice": false, "zero": false}, "axis": {"orient": "bottom", "values": [0, 50, 100, 150], "title": "Months", "titlePadding": 5, "titleFontSize": 8.5, "titleFontWeight": "normal"}},
    "y": {"field": "s", "type": "quantitative", "scale": {"domain": [-0.04, 1.04], "nice": false, "zero": false}, "axis": {"values": [0, 0.2, 0.4, 0.6, 0.8, 1], "format": ".1f", "title": "Percent survival", "titlePadding": 4, "titleFontWeight": "normal"}},
    "color": {"field": "g", "type": "nominal", "scale": {"domain": ["L", "H"], "range": ["#1d1d78", "#f0262a"]}, "legend": {"title": null, "offset": 11, "symbolType": "M-1,0L3,0", "labelExpr": "datum.label == 'L' ? 'Low LRRC19 TPM' : 'High LRRC19 TPM'"}}
   },
   "layer": [
    {"transform": [{"filter": "datum.k == 'e'"}], "mark": {"type": "line", "interpolate": "step-after", "strokeWidth": 1.3}},
    {"transform": [{"filter": "datum.k == 'u' || datum.k == 'l'"}], "mark": {"type": "line", "interpolate": "step-after", "strokeWidth": 0.9, "strokeDash": [1.2, 1.2]}, "encoding": {"detail": {"field": "k"}}},
    {"transform": [{"filter": "datum.k == 'c'"}], "mark": {"type": "point", "shape": "M0,-1L0,1M-1,0L1,0", "filled": false, "strokeWidth": 1, "size": 22, "opacity": 1}},
    {"transform": [{"filter": "datum.k == 'e' && datum.g == 'L' && datum.t == 0"}], "mark": {"type": "text", "align": "right", "baseline": "middle", "fontSize": 7, "lineHeight": 8, "color": "#000", "text": ["Logrank p = 0.0029", "HR (high) = 0.52", "p (HR) = 0.0034", "n (high) = 181", "n (low) = 181"]}, "encoding": {"x": {"datum": 157}, "y": {"datum": 1.0}, "color": {"value": "#000"}}}
   ]
  }],
  "spacing": 0,
  "title": {"text": "(a)", "orient": "bottom", "anchor": "middle", "fontSize": 9, "offset": 9, "dx": -5},
  "resolve": {"scale": {"color": "independent"}, "legend": {"color": "independent"}}
 },
 {"vconcat": [
  {"width": 1, "height": 7, "data": {"values": []}, "mark": "point", "view": {"stroke": null}},
  {
   "width": 149, "height": 135, "data": {"name": "pb"},
   "title": {"text": "Colorectal cancer, DFS", "offset": 2},
   "encoding": {
    "x": {"field": "t", "type": "quantitative", "scale": {"domain": [0, 158.5], "nice": false, "zero": false}, "axis": {"orient": "bottom", "values": [0, 50, 100, 150], "title": "Months", "titlePadding": 5, "titleFontSize": 8.5, "titleFontWeight": "normal"}},
    "y": {"field": "s", "type": "quantitative", "scale": {"domain": [-0.04, 1.04], "nice": false, "zero": false}, "axis": {"values": [0, 0.2, 0.4, 0.6, 0.8, 1], "format": ".1f", "title": "Percent survival", "titlePadding": 4, "titleFontWeight": "normal"}},
    "color": {"field": "g", "type": "nominal", "scale": {"domain": ["L", "H"], "range": ["#1d1d78", "#f0262a"]}, "legend": {"title": null, "offset": 7, "symbolType": "M-1,0L3,0", "labelExpr": "datum.label == 'L' ? 'Low LRRC19 TPM' : 'High LRRC19 TPM'"}}
   },
   "layer": [
    {"transform": [{"filter": "datum.k == 'e'"}], "mark": {"type": "line", "interpolate": "step-after", "strokeWidth": 1.3}},
    {"transform": [{"filter": "datum.k == 'u' || datum.k == 'l'"}], "mark": {"type": "line", "interpolate": "step-after", "strokeWidth": 0.9, "strokeDash": [1.2, 1.2]}, "encoding": {"detail": {"field": "k"}}},
    {"transform": [{"filter": "datum.k == 'c'"}], "mark": {"type": "point", "shape": "M0,-1L0,1M-1,0L1,0", "filled": false, "strokeWidth": 1, "size": 22, "opacity": 1}},
    {"transform": [{"filter": "datum.k == 'e' && datum.g == 'L' && datum.t == 0"}], "mark": {"type": "text", "align": "right", "baseline": "middle", "fontSize": 6.5, "lineHeight": 6, "color": "#000", "text": ["Logrank p = 0.012", "HR (high) = 0.58", "p (HR) = 0.013", "n (high) = 181", "n (low) = 181"]}, "encoding": {"x": {"datum": 152}, "y": {"datum": 0.9}, "color": {"value": "#000"}}}
   ]
  }],
  "spacing": 0,
  "title": {"text": "(b)", "orient": "bottom", "anchor": "middle", "fontSize": 9, "offset": 8, "dx": -5},
  "resolve": {"scale": {"color": "independent"}, "legend": {"color": "independent"}}
 }
 ], "spacing": 17, "resolve": {"scale": {"color": "independent"}, "legend": {"color": "independent"}}},
 {"vconcat": [
  {"width": 188, "height": 53.5, "data": {"values": []}, "mark": "point", "view": {"stroke": null}},
  {
   "width": 183, "height": 72, "data": {"name": "pc"},
   "title": {"text": ["Colorectal cancer, OS, GSE17536,", "HR = 0.84, Cox P = 0.025916"], "lineHeight": 9.8, "anchor": "start", "frame": "group", "offset": 0.5},
   "encoding": {
    "x": {"field": "t", "type": "quantitative", "scale": {"domain": [-5.72, 148.72], "nice": false, "zero": false}, "axis": null},
    "y": {"field": "s", "type": "quantitative", "scale": {"domain": [-0.04, 1.04], "nice": false, "zero": false}, "axis": {"values": [0, 0.2, 0.4, 0.6, 0.8, 1], "labelExpr": "datum.value == 0 || datum.value == 0.4 || datum.value == 0.8 ? format(datum.value, '.1f') : ''", "title": "Probability", "titlePadding": 3, "titleFontWeight": "normal"}},
    "color": {"field": "g", "type": "nominal", "scale": {"domain": ["H", "L"], "range": ["#1d1d78", "#f0262a"]}, "legend": {"title": null, "offset": 10, "symbolType": "M-1,0L3,0", "labelExpr": "datum.label == 'H' ? 'High n = 155' : 'Low n = 22'"}}
   },
   "layer": [
    {"transform": [{"filter": "datum.k == 'e'"}], "mark": {"type": "line", "interpolate": "step-after", "strokeWidth": 1.2}, "encoding": {"x": {"field": "t", "type": "quantitative", "axis": {"orient": "bottom", "values": [0, 20, 40, 60, 80, 100, 120, 140], "title": "Months", "titlePadding": 3, "titleFontSize": 8.5, "titleFontWeight": "normal"}}}},
    {"transform": [{"filter": "datum.k == 'u' || datum.k == 'l'"}], "mark": {"type": "line", "interpolate": "step-after", "strokeWidth": 0.9, "strokeDash": [1.2, 1.2]}, "encoding": {"detail": {"field": "k"}, "x": {"field": "t", "type": "quantitative", "axis": {"orient": "top", "title": "Kaplan-Meier plot", "labels": false, "ticks": false, "domain": false, "titlePadding": 2.5, "titleFontSize": 8, "titleFontWeight": "normal"}}}},
    {"transform": [{"filter": "datum.k == 'c'"}], "mark": {"type": "point", "shape": "M0,-1L0,1M-1,0L1,0", "filled": false, "strokeWidth": 1, "size": 22, "opacity": 1}}
   ]
  }],
  "spacing": 0,
  "title": {"text": "(c)", "orient": "bottom", "anchor": "middle", "fontSize": 9, "offset": 10, "dx": -2},
  "resolve": {"scale": {"color": "independent"}, "legend": {"color": "independent"}}
 }
], "spacing": 10.5, "resolve": {"scale": {"color": "independent"}, "legend": {"color": "independent"}}},
{"hconcat": [
 {"vconcat": [{
   "width": 184, "height": 70, "data": {"name": "pd"},
   "title": {"text": ["Colorectal cancer, DFS, GSE17536,", "HR = 0.75, Cox P = 0.005594"], "lineHeight": 10.5, "anchor": "start", "frame": "group", "offset": 3},
   "encoding": {
    "x": {"field": "t", "type": "quantitative", "scale": {"domain": [-5.72, 148.72], "nice": false, "zero": false}, "axis": null},
    "y": {"field": "s", "type": "quantitative", "scale": {"domain": [-0.04, 1.04], "nice": false, "zero": false}, "axis": {"values": [0, 0.2, 0.4, 0.6, 0.8, 1], "labelExpr": "datum.value == 0 || datum.value == 0.4 || datum.value == 0.8 ? format(datum.value, '.1f') : ''", "title": "Probability", "titlePadding": 4, "titleFontWeight": "normal"}},
    "color": {"field": "g", "type": "nominal", "scale": {"domain": ["H", "L"], "range": ["#1d1d78", "#f0262a"]}, "legend": {"title": null, "offset": 9, "symbolType": "M-1,0L3,0", "labelFontSize": 6.5, "rowPadding": 1, "labelExpr": "datum.label == 'H' ? 'High n = 124' : 'Low n = 21'"}}
   },
   "layer": [
    {"transform": [{"filter": "datum.k == 'e'"}], "mark": {"type": "line", "interpolate": "step-after", "strokeWidth": 1.2}, "encoding": {"x": {"field": "t", "type": "quantitative", "axis": {"orient": "bottom", "values": [0, 20, 40, 60, 80, 100, 120, 140], "title": "Months", "titlePadding": 3, "titleFontSize": 8.5, "titleFontWeight": "normal"}}}},
    {"transform": [{"filter": "datum.k == 'u' || datum.k == 'l'"}], "mark": {"type": "line", "interpolate": "step-after", "strokeWidth": 0.9, "strokeDash": [1.2, 1.2]}, "encoding": {"detail": {"field": "k"}, "x": {"field": "t", "type": "quantitative", "axis": {"orient": "top", "title": "Kaplan-Meier plot", "labels": false, "ticks": false, "domain": false, "titlePadding": 3, "titleFontSize": 8, "titleFontWeight": "normal"}}}},
    {"transform": [{"filter": "datum.k == 'c'"}], "mark": {"type": "point", "shape": "M0,-1L0,1M-1,0L1,0", "filled": false, "strokeWidth": 1, "size": 22, "opacity": 1}}
   ]
  }],
  "title": {"text": "(d)", "orient": "bottom", "anchor": "middle", "fontSize": 9, "offset": 10},
  "resolve": {"scale": {"color": "independent"}, "legend": {"color": "independent"}}
 },
 {"vconcat": [{
   "width": 176, "height": 74, "data": {"name": "pe"},
   "title": {"text": ["Colorectal cancer, DSS, GSE17536,", "HR = 0.80, Cox P = 0.011420"], "lineHeight": 10.5, "anchor": "start", "frame": "group", "offset": 3},
   "encoding": {
    "x": {"field": "t", "type": "quantitative", "scale": {"domain": [-5.72, 148.72], "nice": false, "zero": false}, "axis": null},
    "y": {"field": "s", "type": "quantitative", "scale": {"domain": [-0.04, 1.04], "nice": false, "zero": false}, "axis": {"values": [0, 0.2, 0.4, 0.6, 0.8, 1], "labelExpr": "datum.value == 0 || datum.value == 0.4 || datum.value == 0.8 ? format(datum.value, '.1f') : ''", "title": "Probability", "titlePadding": 4, "titleFontWeight": "normal"}},
    "color": {"field": "g", "type": "nominal", "scale": {"domain": ["H", "L"], "range": ["#1d1d78", "#f0262a"]}, "legend": {"title": null, "offset": 2, "symbolType": "M-1,0L3,0", "labelFontSize": 7.5, "rowPadding": 1.5, "labelExpr": "datum.label == 'H' ? 'High n = 155' : 'Low n = 22'"}}
   },
   "layer": [
    {"transform": [{"filter": "datum.k == 'e'"}], "mark": {"type": "line", "interpolate": "step-after", "strokeWidth": 1.2}, "encoding": {"x": {"field": "t", "type": "quantitative", "axis": {"orient": "bottom", "values": [0, 20, 40, 60, 80, 100, 120, 140], "title": "Months", "titlePadding": 3, "titleFontSize": 8.5, "titleFontWeight": "normal"}}}},
    {"transform": [{"filter": "datum.k == 'u' || datum.k == 'l'"}], "mark": {"type": "line", "interpolate": "step-after", "strokeWidth": 0.9, "strokeDash": [1.2, 1.2]}, "encoding": {"detail": {"field": "k"}, "x": {"field": "t", "type": "quantitative", "axis": {"orient": "top", "title": "Kaplan-Meier plot", "labels": false, "ticks": false, "domain": false, "titlePadding": 3, "titleFontSize": 8, "titleFontWeight": "normal"}}}},
    {"transform": [{"filter": "datum.k == 'c'"}], "mark": {"type": "point", "shape": "M0,-1L0,1M-1,0L1,0", "filled": false, "strokeWidth": 1, "size": 22, "opacity": 1}}
   ]
  }],
  "title": {"text": "(e)", "orient": "bottom", "anchor": "middle", "fontSize": 9, "offset": 13, "dx": -3},
  "resolve": {"scale": {"color": "independent"}, "legend": {"color": "independent"}}
 },
 {"vconcat": [{
   "width": 175, "height": 71, "data": {"name": "pf"},
   "title": {"text": ["Colorectal cancer, DFS, GSE14333,", "HR = 0.78, Cox P = 0.000287"], "lineHeight": 10.5, "anchor": "start", "frame": "group", "offset": 3},
   "encoding": {
    "x": {"field": "t", "type": "quantitative", "scale": {"domain": [-5.72, 145], "nice": false, "zero": false}, "axis": null},
    "y": {"field": "s", "type": "quantitative", "scale": {"domain": [-0.04, 1.04], "nice": false, "zero": false}, "axis": {"values": [0, 0.2, 0.4, 0.6, 0.8, 1], "labelExpr": "datum.value == 0 || datum.value == 0.4 || datum.value == 0.8 ? format(datum.value, '.1f') : ''", "title": "Probability", "titlePadding": 4, "titleFontWeight": "normal"}},
    "color": {"field": "g", "type": "nominal", "scale": {"domain": ["H", "L"], "range": ["#1d1d78", "#f0262a"]}, "legend": {"title": null, "offset": 6, "symbolType": "M-1,0L3,0", "labelFontSize": 7.5, "rowPadding": 1.5, "labelExpr": "datum.label == 'H' ? 'High n = 196' : 'Low n = 30'"}}
   },
   "layer": [
    {"transform": [{"filter": "datum.k == 'e'"}], "mark": {"type": "line", "interpolate": "step-after", "strokeWidth": 1.2}, "encoding": {"x": {"field": "t", "type": "quantitative", "axis": {"orient": "bottom", "values": [0, 20, 40, 60, 80, 100, 120, 140], "title": "Months", "titlePadding": 3, "titleFontSize": 8.5, "titleFontWeight": "normal"}}}},
    {"transform": [{"filter": "datum.k == 'u' || datum.k == 'l'"}], "mark": {"type": "line", "interpolate": "step-after", "strokeWidth": 0.9, "strokeDash": [1.2, 1.2]}, "encoding": {"detail": {"field": "k"}, "x": {"field": "t", "type": "quantitative", "axis": {"orient": "top", "title": "Kaplan-Meier plot", "labels": false, "ticks": false, "domain": false, "titlePadding": 3, "titleFontSize": 8, "titleFontWeight": "normal"}}}},
    {"transform": [{"filter": "datum.k == 'c'"}], "mark": {"type": "point", "shape": "M0,-1L0,1M-1,0L1,0", "filled": false, "strokeWidth": 1, "size": 22, "opacity": 1}}
   ]
  }],
  "title": {"text": "(f)", "orient": "bottom", "anchor": "middle", "fontSize": 9, "offset": 11, "dx": -2},
  "resolve": {"scale": {"color": "independent"}, "legend": {"color": "independent"}}
 }
], "spacing": 18, "resolve": {"scale": {"color": "independent"}, "legend": {"color": "independent"}}}
],
"spacing": 11,
"center": true,
"resolve": {"scale": {"color": "independent"}, "legend": {"color": "independent"}}
}
